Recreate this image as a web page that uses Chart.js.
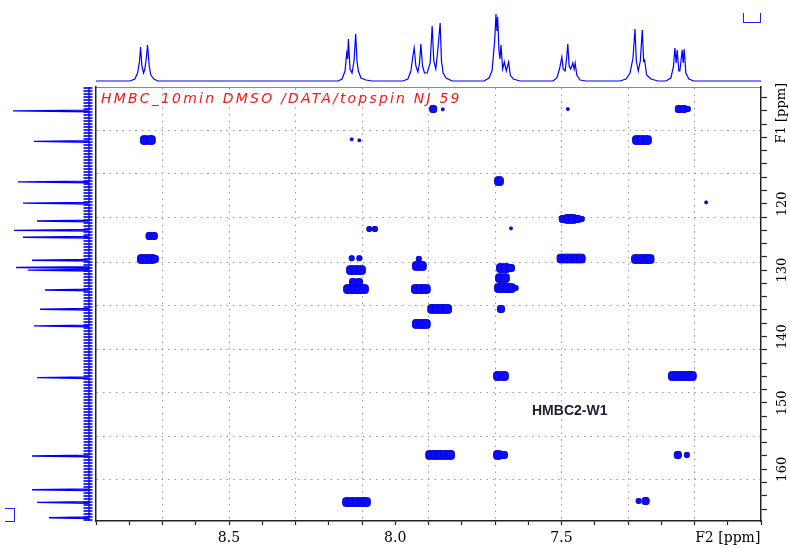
<!DOCTYPE html>
<html>
<head>
<meta charset="utf-8">
<title>HMBC2-W1</title>
<script src="https://cdn.jsdelivr.net/npm/chart.js@4.4.1/dist/chart.umd.min.js"></script>
<style>
  body { margin: 0; background: #fff; }
  #wrap { position: relative; width: 790px; height: 548px; overflow: hidden; }
  #wrap canvas { position: absolute; }
  .note { position: absolute; white-space: nowrap; line-height: 14px; }
  #title { left: 101px; top: 90px; font: italic 14px "DejaVu Sans"; letter-spacing: 2.2px; color: #f01818; }
  #sample { left: 532px; top: 402px; font: bold 14px "Liberation Sans"; color: #202030; }
  .mark { position: absolute; border: 1.5px solid #2020ff; box-sizing: border-box; }
  #markTop { left: 743px; top: 13px; width: 18px; height: 10px; border-top: none; }
  #markLeft { left: 5px; top: 508px; width: 10px; height: 14px; border-left: none; }
</style>
</head>
<body>
<div id="wrap">
  <canvas id="main" width="790" height="548" style="left:0;top:0"></canvas>
  <canvas id="proton" width="665" height="72"></canvas>
  <canvas id="carbon" width="96" height="434"></canvas>
  <div class="note" id="title">HMBC_10min DMSO /DATA/topspin NJ 59</div>
  <div class="note" id="sample">HMBC2-W1</div>
  <div class="mark" id="markTop"></div>
  <div class="mark" id="markLeft"></div>
</div>
<script>
// F2 (1H) projection trace, ppm / height
const protonPpm = [8.9,
  8.798, 8.783, 8.775, 8.769, 8.766, 8.762, 8.757, 8.753, 8.748, 8.745, 8.740, 8.735, 8.726, 8.714,
  8.172, 8.160, 8.151, 8.146, 8.143, 8.141, 8.136, 8.130, 8.124, 8.119, 8.115, 8.111, 8.103, 8.088, 8.070,
  7.977, 7.962, 7.953, 7.947, 7.943, 7.938, 7.932, 7.927, 7.923, 7.918, 7.912, 7.904, 7.895, 7.889, 7.884,
  7.878, 7.872, 7.865, 7.861, 7.856, 7.847, 7.829,
  7.733, 7.718, 7.709, 7.701, 7.697, 7.694, 7.692, 7.688, 7.685, 7.682, 7.677, 7.672, 7.666, 7.659, 7.654, 7.645, 7.625,
  7.526, 7.514, 7.506, 7.499, 7.495, 7.489, 7.484, 7.481, 7.477, 7.472, 7.466, 7.462, 7.459, 7.454, 7.444, 7.426,
  7.324, 7.306, 7.294, 7.285, 7.279, 7.275, 7.269, 7.263, 7.257, 7.253, 7.250, 7.244, 7.231, 7.210,
  7.186, 7.171, 7.163, 7.159, 7.155, 7.152, 7.147, 7.144, 7.137, 7.134, 7.131, 7.126, 7.117, 7.102,
  6.9];
const protonInt = [0,
  0, 2, 8, 20, 34, 15, 8, 12, 25, 36, 15, 6, 2, 0,
  0, 2, 10, 28, 22, 42, 12, 8, 20, 47, 20, 10, 3, 1, 0,
  0, 2, 10, 25, 33, 15, 9, 18, 37, 15, 8, 8, 18, 55, 20,
  12, 31, 58, 20, 8, 3, 0,
  0, 3, 10, 40, 67, 50, 64, 30, 22, 36, 12, 19, 10, 19, 6, 2, 0,
  0, 3, 12, 24, 12, 10, 25, 37, 15, 12, 18, 12, 18, 6, 1, 0,
  0, 2, 8, 23, 52, 20, 10, 20, 51, 20, 21, 6, 2, 0,
  0, 3, 15, 33, 18, 31, 10, 10, 31, 18, 32, 8, 2, 0,
  0];

// F1 (13C) projection lines, ppm / height
const carbonPpm = [106.0, 110.6, 116.7, 119.9, 122.6, 124.0, 125.05, 128.5, 129.6, 130.0,
  133.0, 135.9, 138.4, 146.2, 158.0, 163.1, 165.0, 167.3];
const carbonInt = [76, 55, 71, 66, 52, 75, 66, 57, 73, 61, 44, 49, 55, 52, 57, 57, 52, 40];

// HMBC cross peaks: F2 ppm, F1 ppm, contour level
const crossH = [8.753, 8.735, 8.131, 8.108, 7.886, 7.857, 7.481, 7.147, 7.132, 7.120,
  7.273, 7.258, 7.243, 7.688, 7.065, 7.496, 7.481, 7.466, 7.451, 7.439,
  7.652, 8.078, 8.061, 8.739, 8.726, 8.762, 8.747, 8.732, 8.723, 8.131, 8.108,
  8.133, 8.118, 8.103, 8.142, 8.130, 8.118, 8.106, 8.094, 8.127, 8.109,
  7.935, 7.920, 7.929, 7.938, 7.923, 7.908, 7.889, 7.874, 7.859, 7.844, 7.935, 7.921, 7.908,
  7.682, 7.667, 7.652, 7.685, 7.670, 7.688, 7.676, 7.664, 7.652, 7.638, 7.682,
  7.500, 7.485, 7.470, 7.455, 7.442, 7.276, 7.261, 7.246, 7.235,
  7.691, 7.673, 7.165, 7.150, 7.135, 7.120, 7.108,
  7.895, 7.880, 7.865, 7.850, 7.835, 7.691, 7.673, 7.150, 7.123,
  8.145, 8.130, 8.115, 8.100, 8.088, 7.268, 7.247];
const crossC = [110.39, 110.39, 110.28, 110.43, 105.72, 105.77, 105.72, 105.72, 105.72, 105.72,
  110.39, 110.39, 110.39, 116.57, 119.78, 122.29, 122.29, 122.29, 122.29, 122.29,
  123.7, 123.8, 123.8, 124.85, 124.85, 128.32, 128.32, 128.32, 128.32, 128.2, 128.2,
  129.98, 129.98, 129.98, 132.84, 132.84, 132.84, 132.84, 132.84, 131.8, 131.8,
  129.37, 129.37, 128.3, 132.84, 132.84, 132.84, 135.85, 135.85, 135.85, 135.85, 138.11, 138.11, 138.11,
  129.68, 129.68, 129.68, 131.2, 131.2, 132.69, 132.69, 132.69, 132.69, 132.69, 135.85,
  128.25, 128.25, 128.25, 128.25, 128.25, 128.32, 128.32, 128.32, 128.32,
  145.95, 145.95, 145.95, 145.95, 145.95, 145.95, 145.95,
  157.85, 157.85, 157.85, 157.85, 157.85, 157.85, 157.85, 157.85, 157.85,
  164.94, 164.94, 164.94, 164.94, 164.94, 164.79, 164.79];
const crossLevel = [3, 3, 0, 0, 2, 0, 0, 2, 2, 1,
  3, 3, 3, 3, 0, 2, 3, 3, 2, 1,
  0, 1, 1, 2, 2, 3, 3, 3, 2, 1, 1,
  3, 3, 3, 3, 3, 3, 3, 3, 2, 2,
  3, 3, 1, 3, 3, 3, 3, 3, 3, 3, 3, 3, 3,
  3, 3, 2, 3, 3, 3, 3, 3, 3, 1, 2,
  3, 3, 3, 3, 3, 3, 3, 3, 3,
  3, 3, 3, 3, 3, 3, 3,
  3, 3, 3, 3, 3, 3, 2, 2, 1,
  3, 3, 3, 3, 3, 1, 2];

// axes
const f2Range = [6.9, 8.9];
const f1Range = [102.4, 167.8];
const f2Labels = [8.5, 8.0, 7.5];
const f1Labels = [120, 130, 140, 150, 160];
const f2Grid = [8.7, 8.5, 8.3, 8.1, 7.9, 7.7, 7.5, 7.3, 7.1];
const f1Grid = [108.9, 115.5, 122.1, 128.8, 135.3, 141.9, 148.5, 155.1, 161.6];

const BLUE = '#0000ff';
const LEVEL_RADIUS = [1.6, 2.9, 4.1, 5.1];

function steps(from, to, step) {
  const out = [];
  for (let v = from; v <= to + 1e-9; v += step) out.push(Math.round(v * 100) / 100);
  return out;
}
function setTicks(values) {
  return scale => { scale.ticks = values.map(v => ({ value: v })); };
}

const crossPeaks = crossH.map((h, i) => ({ x: h, y: crossC[i], level: crossLevel[i] }));

/* F1 axis name sits in the tick label column */
const axisName = {
  id: 'axisName',
  afterDraw(chart) {
    const s = chart.scales.y;
    const ctx = chart.ctx;
    ctx.save();
    ctx.font = '13px "DejaVu Serif"';
    ctx.fillStyle = '#000';
    ctx.translate(s.left + 21, s.getPixelForValue(110) + 6);
    ctx.rotate(-Math.PI / 2);
    ctx.textAlign = 'left';
    ctx.textBaseline = 'middle';
    ctx.fillText('F1 [ppm]', 0, 0);
    ctx.restore();
  }
};

const mainChart = new Chart(document.getElementById('main'), {
  type: 'scatter',
  data: {
    datasets: [{
      data: crossPeaks,
      pointStyle: 'rectRounded',
      backgroundColor: 'rgb(12,12,250)',
      borderColor: 'rgb(0,0,210)',
      borderWidth: 1,
      pointRadius: ctx => LEVEL_RADIUS[ctx.raw.level],
      pointHoverRadius: ctx => LEVEL_RADIUS[ctx.raw.level]
    }]
  },
  options: {
    responsive: false,
    animation: false,
    events: [],
    layout: { padding: { left: 96, top: 87, right: 0, bottom: 0 } },
    plugins: { legend: { display: false }, tooltip: { enabled: false } },
    scales: {
      x: {
        type: 'linear', position: 'bottom', reverse: true,
        min: f2Range[0], max: f2Range[1],
        afterBuildTicks: setTicks(steps(f2Range[0], f2Range[1], 0.1)),
        afterFit: scale => { scale.height = 27; },
        ticks: {
          autoSkip: false, maxRotation: 0, padding: 5, color: '#000',
          font: { family: 'DejaVu Serif', size: 14 },
          callback: v => {
            if (Math.abs(v - 7.0) < 1e-6) return 'F2 [ppm]';
            return f2Labels.some(l => Math.abs(l - v) < 1e-6) ? v.toFixed(1) : '';
          }
        },
        grid: { drawOnChartArea: false, tickLength: 4, tickColor: '#222', tickWidth: 1.2 },
        border: { color: '#222', width: 1.5 }
      },
      xTop: {
        type: 'linear', position: 'top', reverse: true,
        min: f2Range[0], max: f2Range[1],
        afterBuildTicks: setTicks(f2Grid),
        afterFit: scale => { scale.height = 0; },
        ticks: { display: false },
        grid: { drawTicks: false, color: '#9a9a9a', lineWidth: 1 },
        border: { color: '#8a8a8a', width: 1, dash: [1.5, 5] }
      },
      y: {
        type: 'linear', position: 'right', reverse: true,
        min: f1Range[0], max: f1Range[1],
        afterBuildTicks: setTicks(steps(104, 166, 2)),
        afterFit: scale => { scale.width = 29; },
        ticks: {
          autoSkip: false, minRotation: 90, maxRotation: 90, crossAlign: 'center',
          padding: 3, color: '#000',
          font: { family: 'DejaVu Serif', size: 13 },
          callback: v => f1Labels.includes(v) ? String(v) : ''
        },
        grid: { drawOnChartArea: false, tickLength: 6, tickColor: '#222', tickWidth: 1.2 },
        border: { color: '#222', width: 1.5 }
      },
      yLeft: {
        type: 'linear', position: 'left', reverse: true,
        min: f1Range[0], max: f1Range[1],
        afterBuildTicks: setTicks(f1Grid),
        afterFit: scale => { scale.width = 0; },
        ticks: { display: false },
        grid: { drawTicks: false, color: '#9a9a9a', lineWidth: 1 },
        border: { color: '#222', width: 1.5, dash: [1.5, 5] }
      }
    }
  },
  plugins: [axisName]
});

/* projections are placed against the 2D plot area */
const area = mainChart.chartArea;
const protonCanvas = document.getElementById('proton');
protonCanvas.style.left = area.left + 'px';
protonCanvas.style.top = '10px';
protonCanvas.width = area.right - area.left;
const carbonCanvas = document.getElementById('carbon');
carbonCanvas.style.left = '0px';
carbonCanvas.style.top = area.top + 'px';
carbonCanvas.width = area.left;
carbonCanvas.height = area.bottom - area.top;

new Chart(protonCanvas, {
  type: 'line',
  data: {
    datasets: [{
      data: protonPpm.map((p, i) => ({ x: p, y: protonInt[i] })),
      borderColor: BLUE, borderWidth: 1.2, pointRadius: 0, tension: 0
    }]
  },
  options: {
    responsive: false, animation: false, events: [],
    layout: { padding: 0 },
    plugins: { legend: { display: false }, tooltip: { enabled: false } },
    scales: {
      x: { type: 'linear', display: false, reverse: true, min: f2Range[0], max: f2Range[1] },
      y: { type: 'linear', display: false, min: -1, max: 71 }
    }
  }
});

const carbonTrace = [{ x: 0, y: f1Range[0] }];
carbonPpm.forEach((p, i) => {
  carbonTrace.push({ x: 0, y: p - 0.12 }, { x: carbonInt[i], y: p }, { x: 0, y: p + 0.12 });
});
carbonTrace.push({ x: 0, y: f1Range[1] });

new Chart(carbonCanvas, {
  type: 'scatter',
  data: {
    datasets: [{
      data: [{ x: 1, y: f1Range[0] }, { x: 1, y: f1Range[1] }],
      showLine: true, borderColor: 'rgba(10,10,235,0.85)', borderWidth: 9,
      borderDash: [2, 1], pointRadius: 0
    }, {
      data: carbonTrace,
      showLine: true, borderColor: BLUE, borderWidth: 1.4, pointRadius: 0, tension: 0
    }]
  },
  options: {
    responsive: false, animation: false, events: [],
    layout: { padding: 0 },
    plugins: { legend: { display: false }, tooltip: { enabled: false } },
    scales: {
      x: { type: 'linear', display: false, reverse: true, min: -7, max: 89 },
      y: { type: 'linear', display: false, reverse: true, min: f1Range[0], max: f1Range[1] }
    }
  }
});
</script>
</body>
</html>
